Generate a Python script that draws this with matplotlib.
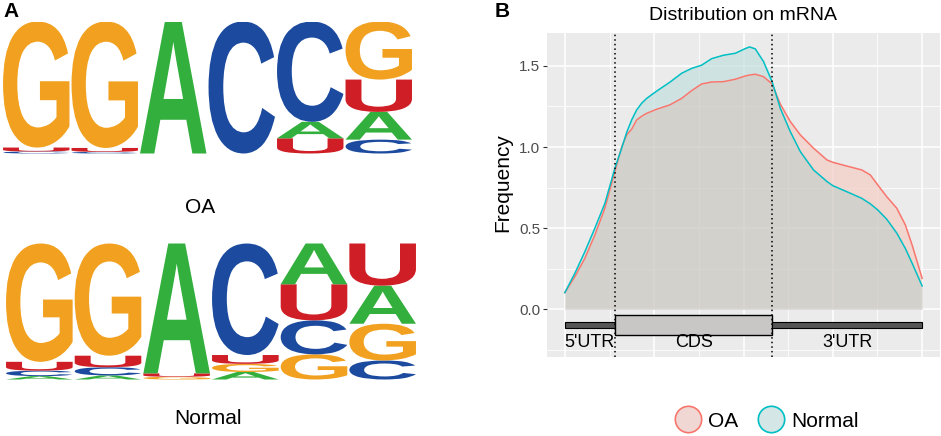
import numpy as np
import matplotlib
matplotlib.use("Agg")
import matplotlib.pyplot as plt
from matplotlib.textpath import TextPath
from matplotlib.font_manager import FontProperties
from matplotlib.patches import PathPatch, Rectangle
from matplotlib.transforms import Affine2D
from matplotlib.lines import Line2D

plt.rcParams['font.family'] = ['Liberation Sans', 'DejaVu Sans']

# ---- panel A: per-position base probabilities (A, C, G, U) ----
bases = ['A', 'C', 'G', 'U']
oa_logo = [
    [0.0, 0.015, 0.955, 0.03],
    [0.0, 0.012, 0.958, 0.03],
    [1.0, 0.0, 0.0, 0.0],
    [0.0, 1.0, 0.0, 0.0],
    [0.125, 0.76, 0.0, 0.115],
    [0.21, 0.105, 0.44, 0.245],
]
normal_logo = [
    [0.025, 0.04, 0.87, 0.065],
    [0.03, 0.06, 0.825, 0.085],
    [0.955, 0.0, 0.02, 0.025],
    [0.055, 0.82, 0.06, 0.065],
    [0.30, 0.25, 0.185, 0.265],
    [0.28, 0.14, 0.27, 0.31],
]
logo_titles = ['OA', 'Normal']

# ---- panel B: metagene density along mRNA ----
pos = [0, 0.028, 0.056, 0.084, 0.112, 0.140, 0.159, 0.173, 0.187, 0.201,
       0.215, 0.229, 0.257, 0.294, 0.327, 0.355, 0.383, 0.411, 0.444, 0.477,
       0.505, 0.517, 0.533, 0.556, 0.580, 0.603, 0.631, 0.659, 0.696, 0.734,
       0.750, 0.789, 0.831, 0.855, 0.876, 0.901, 0.929, 0.953, 0.972, 1.0]
normal = [0.103, 0.222, 0.355, 0.50, 0.653, 0.869, 0.993, 1.09, 1.167, 1.229,
          1.27, 1.30, 1.345, 1.40, 1.455, 1.485, 1.505, 1.545, 1.566, 1.578,
          1.607, 1.617, 1.605, 1.527, 1.403, 1.239, 1.095, 0.972, 0.859, 0.787,
          0.762, 0.725, 0.684, 0.65, 0.612, 0.555, 0.47, 0.375, 0.284, 0.144]
oa = [0.103, 0.201, 0.314, 0.458, 0.623, 0.848, 1.0, 1.075, 1.11, 1.167,
      1.19, 1.208, 1.233, 1.26, 1.30, 1.348, 1.389, 1.401, 1.403, 1.418,
      1.438, 1.444, 1.449, 1.434, 1.389, 1.265, 1.157, 1.075, 0.993, 0.92,
      0.906, 0.883, 0.859, 0.828, 0.766, 0.694, 0.623, 0.52, 0.396, 0.191]
region_edges = [0, 0.14, 0.581, 1.0]
region_labels = ["5'UTR", "CDS", "3'UTR"]

W, H = 941, 436
fig = plt.figure(figsize=(W / 100, H / 100), dpi=100)

base_colors = {'A': '#32AF3C', 'C': '#1B4A9E', 'G': '#F1A11F', 'U': '#CF1E25'}
logo_font = FontProperties(family='Liberation Sans', weight='bold')


def draw_letter(ax, ch, x0, y0, w, h, color):
    tp = TextPath((0, 0), ch, size=1, prop=logo_font)
    bb = tp.get_extents()
    tr = Affine2D().translate(-bb.x0, -bb.y0).scale(w / bb.width, h / bb.height).translate(x0, y0)
    ax.add_patch(PathPatch(tr.transform_path(tp), fc=color, lw=0))


def draw_logo(ax, probs):
    ax.set_xlim(0.5, len(probs) + 0.5)
    ax.set_ylim(0, 1)
    ax.axis('off')
    for i, col in enumerate(probs):
        order = sorted(range(len(bases)), key=lambda k: col[k])
        y = 0
        for k in order:
            if col[k] <= 0:
                continue
            draw_letter(ax, bases[k], i + 1 - 0.485, y, 0.97, col[k], base_colors[bases[k]])
            y += col[k]


ax_top = fig.add_axes([2 / W, 1 - 153.5 / H, 411 / W, 132 / H])
draw_logo(ax_top, oa_logo)
ax_bot = fig.add_axes([5 / W, 1 - 379.5 / H, 412 / W, 136 / H])
draw_logo(ax_bot, normal_logo)

fig.text(200 / W, 1 - 213 / H, logo_titles[0], ha='center', va='baseline', fontsize=15)
fig.text(208 / W, 1 - 424 / H, logo_titles[1], ha='center', va='baseline', fontsize=15)
fig.text(3 / W, 1 - 17 / H, 'A', ha='left', va='baseline', fontsize=15, fontweight='bold')
fig.text(495 / W, 1 - 17 / H, 'B', ha='left', va='baseline', fontsize=15, fontweight='bold')

# ---- panel B ----
axB = fig.add_axes([547 / W, 1 - 357 / H, (940 - 547) / W, (357 - 33) / H])
axB.set_facecolor('#EBEBEB')
axB.set_xlim(-0.05, 1.05)
axB.set_ylim(-0.294, 1.703)
axB.set_xticks([0, 0.25, 0.5, 0.75, 1.0])
axB.set_xticks([0.125, 0.375, 0.625, 0.875], minor=True)
axB.set_yticks([0, 0.5, 1.0, 1.5])
axB.set_yticklabels(['0.0', '0.5', '1.0', '1.5'])
axB.set_yticks([-0.25, 0.25, 0.75, 1.25], minor=True)
axB.set_axisbelow(True)
axB.grid(which='major', color='white', lw=1.1)
axB.grid(which='minor', color='white', lw=0.55)
axB.tick_params(axis='x', which='both', length=0, labelbottom=False)
axB.tick_params(axis='y', which='minor', length=0)
axB.tick_params(axis='y', which='major', length=3, width=0.8, color='#333333',
                labelsize=11, labelcolor='#4D4D4D', pad=2)
for s in axB.spines.values():
    s.set_visible(False)

x = np.array(pos)
yn = np.array(normal)
yo = np.array(oa)
axB.fill_between(x, 0, np.minimum(yn, yo), color=(202 / 255, 198 / 255, 191 / 255), alpha=0.7, lw=0)
axB.fill_between(x, yn, yo, where=yo >= yn, interpolate=True,
                 color=(244 / 255, 204 / 255, 196 / 255), alpha=0.7, lw=0)
axB.fill_between(x, yo, yn, where=yn >= yo, interpolate=True,
                 color=(195 / 255, 224 / 255, 222 / 255), alpha=0.7, lw=0)
axB.plot(x, yo, color='#F8766D', lw=1.1)
axB.plot(x, yn, color='#00BFC4', lw=1.1)

# gene structure
for i in range(3):
    x0, x1 = region_edges[i], region_edges[i + 1]
    if i == 1:
        axB.add_patch(Rectangle((x0, -0.156), x1 - x0, 0.119, fc='#C9C6C6', ec='black', lw=1.0, zorder=3))
    else:
        axB.add_patch(Rectangle((x0, -0.115), x1 - x0, 0.037, fc='#555555', ec='black', lw=0.8, zorder=3))
    axB.text((x0 + x1) / 2, -0.202, region_labels[i], ha='center', va='center', fontsize=13, zorder=4)

for xe in region_edges[1:3]:
    axB.axvline(xe, color='black', ls=(0, (1, 2)), lw=1.1, zorder=5)

fig.text(743 / W, 1 - 20 / H, 'Distribution on mRNA', ha='center', va='baseline', fontsize=14)
fig.text(503 / W, 1 - 183 / H, 'Frequency', ha='center', va='center', rotation=90, fontsize=15)

handles = [
    Line2D([], [], marker='o', ls='', ms=19, mfc='#F0D7D4', mec='#F8766D', mew=1.2),
    Line2D([], [], marker='o', ls='', ms=19, mfc='#D5E6E6', mec='#00BFC4', mew=1.2),
]
fig.legend(handles, logo_titles, loc='center', bbox_to_anchor=(766 / W, 1 - 421 / H), ncol=2,
           frameon=False, fontsize=15, handlelength=1.4, handletextpad=0.3, columnspacing=0.85)

fig.savefig('out.png', dpi=100)
